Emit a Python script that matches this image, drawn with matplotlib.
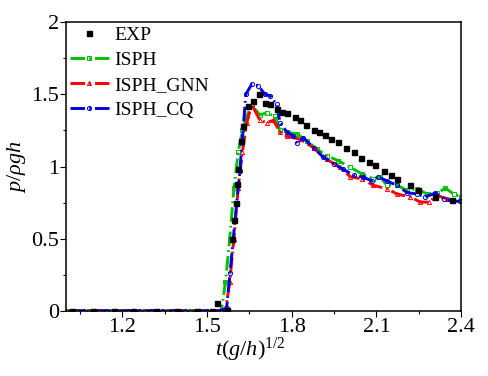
import numpy as np
import matplotlib
matplotlib.use('Agg')
import matplotlib.pyplot as plt
from matplotlib.ticker import MultipleLocator

plt.rcParams['font.family'] = 'Liberation Serif'
plt.rcParams['mathtext.fontset'] = 'custom'
plt.rcParams['mathtext.rm'] = 'Liberation Serif'
plt.rcParams['mathtext.it'] = 'Liberation Serif:italic'

# experiment
exp_t = [1.02, 1.095, 1.17, 1.237, 1.32, 1.395, 1.465, 1.517, 1.534, 1.569,
         1.587, 1.596, 1.601, 1.607, 1.610, 1.620, 1.628, 1.646, 1.664, 1.684,
         1.705, 1.723, 1.747, 1.764, 1.782, 1.812, 1.829, 1.850, 1.877, 1.898,
         1.918, 1.940, 1.965, 1.992, 2.019, 2.046, 2.072, 2.096, 2.125, 2.151,
         2.173, 2.220, 2.246, 2.309, 2.368]
exp_p = [0, 0, 0, 0, 0, 0, 0, 0, 0.055, 0.008,
         0.50, 0.63, 0.75, 0.88, 0.98, 1.18, 1.28, 1.42, 1.455, 1.50,
         1.44, 1.43, 1.40, 1.38, 1.37, 1.34, 1.32, 1.29, 1.25, 1.24,
         1.22, 1.19, 1.17, 1.13, 1.10, 1.06, 1.03, 1.01, 0.966, 0.94,
         0.915, 0.87, 0.84, 0.79, 0.765]

# ISPH
isph_t = [1.0, 1.04, 1.08, 1.12, 1.16, 1.20, 1.24, 1.28, 1.32, 1.36, 1.40, 1.44,
          1.48, 1.52, 1.55, 1.565, 1.58, 1.595, 1.61, 1.625, 1.64, 1.658, 1.687,
          1.711, 1.741, 1.758, 1.782, 1.818, 1.853, 1.889, 1.924, 1.965, 2.007,
          2.048, 2.089, 2.113, 2.137, 2.173, 2.208, 2.244, 2.279, 2.315, 2.344,
          2.374, 2.40]
isph_p = [0, 0, 0, 0, 0, 0, 0, 0, 0, 0, 0, 0,
          0, 0, 0, 0.20, 0.50, 0.85, 1.10, 1.25, 1.35, 1.42, 1.36,
          1.37, 1.35, 1.25, 1.24, 1.225, 1.18, 1.12, 1.076, 1.04, 0.995,
          0.95, 0.915, 0.93, 0.87, 0.87, 0.835, 0.846, 0.81, 0.816, 0.85,
          0.81, 0.79]

# ISPH_GNN
gnn_t = [1.01, 1.05, 1.09, 1.13, 1.17, 1.21, 1.25, 1.29, 1.33, 1.37, 1.41, 1.45,
         1.49, 1.53, 1.565, 1.58, 1.595, 1.61, 1.625, 1.64, 1.658, 1.687, 1.711,
         1.735, 1.758, 1.782, 1.829, 1.877, 1.924, 1.971, 2.007, 2.048, 2.089,
         2.137, 2.173, 2.220, 2.255, 2.285, 2.315, 2.350, 2.397]
gnn_p = [0, 0, 0, 0, 0, 0, 0, 0, 0, 0, 0, 0,
         0, 0, 0, 0.20, 0.50, 0.85, 1.10, 1.30, 1.43, 1.32, 1.305,
         1.32, 1.24, 1.21, 1.19, 1.13, 1.05, 0.995, 0.93, 0.915, 0.87,
         0.846, 0.81, 0.79, 0.754, 0.754, 0.80, 0.777, 0.766]

# ISPH_CQ
cq_t = [1.02, 1.06, 1.10, 1.14, 1.18, 1.22, 1.26, 1.30, 1.34, 1.38, 1.42, 1.46,
        1.50, 1.54, 1.569, 1.581, 1.599, 1.616, 1.628, 1.637, 1.658, 1.681, 1.705,
        1.723, 1.747, 1.758, 1.782, 1.806, 1.818, 1.841, 1.877, 1.912, 1.948,
        1.983, 2.019, 2.054, 2.084, 2.107, 2.137, 2.173, 2.208, 2.244, 2.273,
        2.309, 2.338, 2.368, 2.397]
cq_p = [0, 0, 0, 0, 0, 0, 0, 0, 0, 0, 0, 0,
        0, 0, 0.02, 0.26, 0.63, 0.97, 1.27, 1.50, 1.57, 1.56, 1.50,
        1.49, 1.43, 1.305, 1.24, 1.21, 1.16, 1.20, 1.13, 1.064, 1.02,
        0.98, 0.94, 0.926, 0.90, 0.93, 0.90, 0.87, 0.82, 0.81, 0.79,
        0.816, 0.777, 0.76, 0.76]

fig = plt.figure(figsize=(4.89, 3.76), dpi=100)
ax = fig.add_axes([0.135, 0.173, 0.808, 0.768])

dash = (0, (5, 1.4, 0.6, 1.4))
ax.plot(exp_t, exp_p, ls='none', marker='s', ms=3.6, color='black', label='EXP', zorder=5)
ax.plot(isph_t, isph_p, ls=dash, lw=2.1, color='#00c000', marker='s', ms=3,
        mfc='none', mew=0.7, label='ISPH')
ax.plot(gnn_t, gnn_p, ls=dash, lw=2.1, color='#ff0000', marker='^', ms=3,
        mfc='none', mew=0.7, label='ISPH_GNN')
ax.plot(cq_t, cq_p, ls=dash, lw=2.1, color='#0000e0', marker='o', ms=3,
        mfc='none', mew=0.7, label='ISPH_CQ')

ax.set_xlim(1.0, 2.4)
ax.set_ylim(0, 2)
ax.xaxis.set_minor_locator(MultipleLocator(0.15))
ax.yaxis.set_minor_locator(MultipleLocator(0.25))
ax.set_xticks([1.2, 1.5, 1.8, 2.1, 2.4])
ax.set_xticklabels(['1.2', '1.5', '1.8', '2.1', '2.4'])
ax.set_yticks([0, 0.5, 1, 1.5, 2])
ax.set_yticklabels(['0', '0.5', '1', '1.5', '2'])
ax.tick_params(which='major', direction='out', length=4, width=0.8,
               labelsize=16, pad=1, top=False, right=False)
ax.tick_params(which='minor', direction='out', length=2.2, width=0.8,
               top=False, right=False)
for s in ax.spines.values():
    s.set_linewidth(1.1)

ax.set_xlabel(r'$t(g/h)^{\mathit{1/2}}$', fontsize=16)
ax.xaxis.set_label_coords(0.466, -0.085)
ax.set_ylabel(r'$p/\rho gh$', fontsize=16)
ax.yaxis.set_label_coords(-0.095, 0.5)

ax.legend(loc='upper left', bbox_to_anchor=(-0.02, 1.025), frameon=False,
          fontsize=14, handlelength=2.0, handletextpad=0.3,
          labelspacing=0.38, borderaxespad=0.2)

fig.savefig('out.png', dpi=100)
